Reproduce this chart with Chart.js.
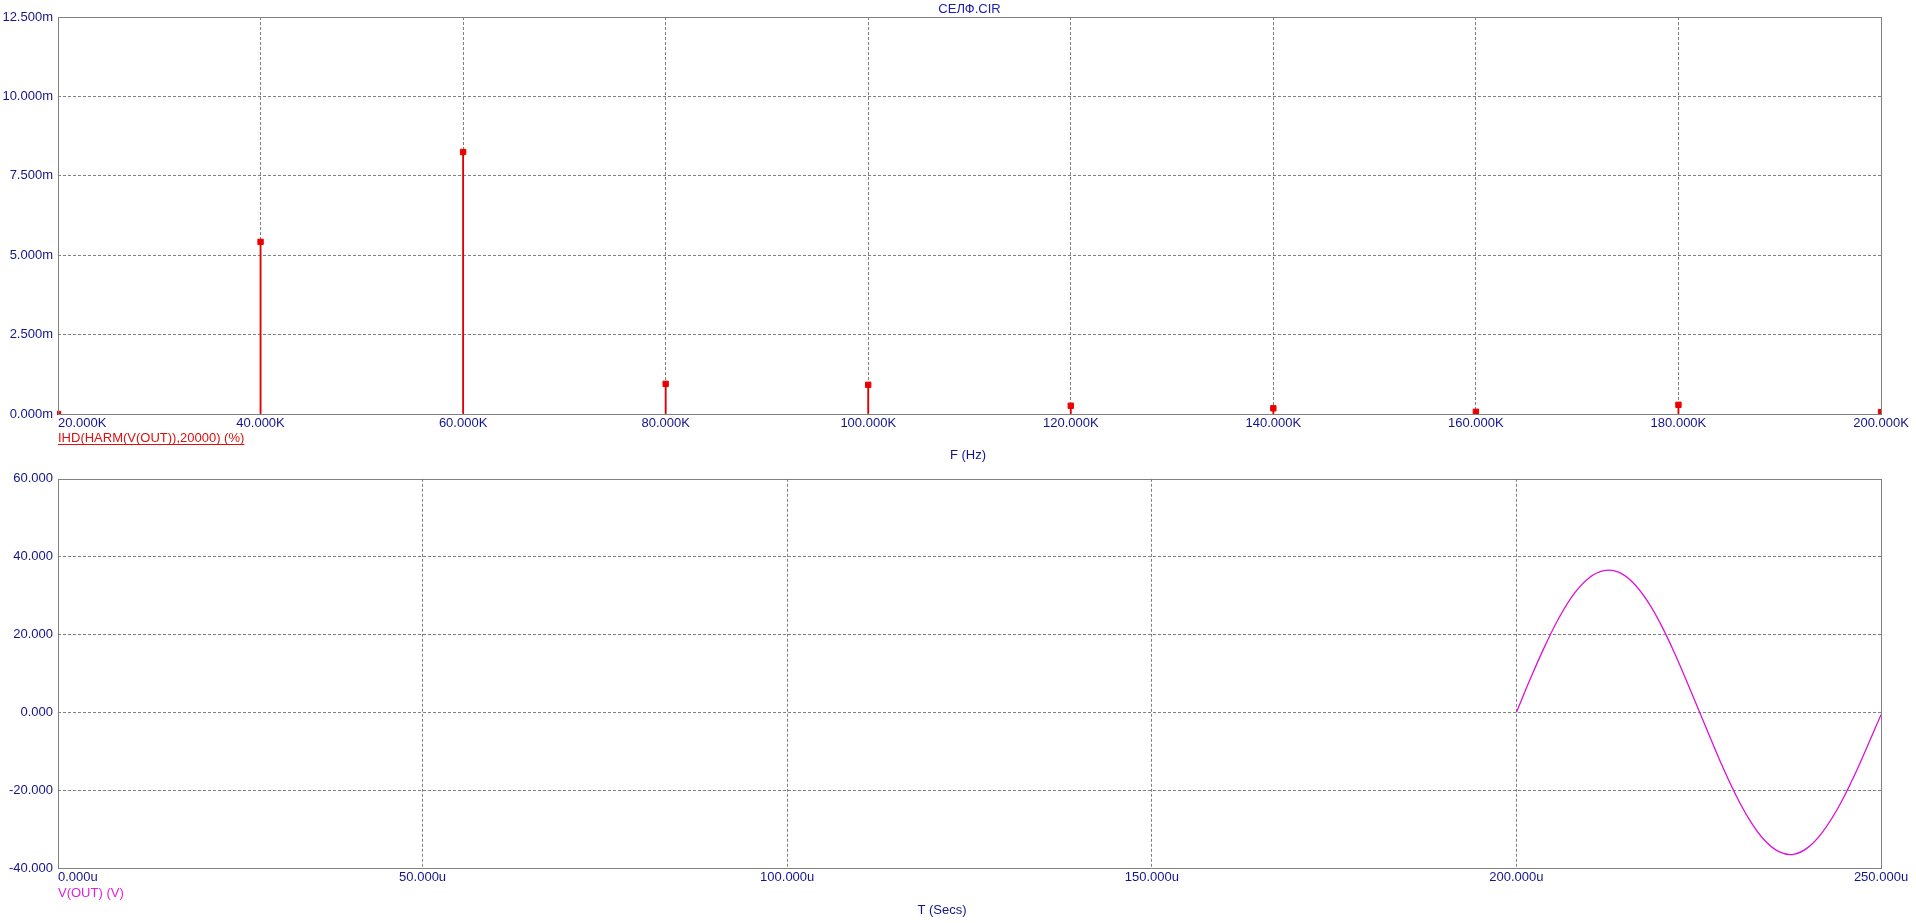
<!DOCTYPE html>
<html>
<head>
<meta charset="utf-8">
<title>СЕЛФ.CIR</title>
<script src="https://cdn.jsdelivr.net/npm/chart.js@4.4.0/dist/chart.umd.min.js"></script>
<style>
body { margin: 0; background: #fff; overflow: hidden; }
canvas { position: absolute; left: 0; }
#harmChart { top: 0; }
#timeChart { top: 466px; }
</style>
</head>
<body>
<canvas id="harmChart" width="1916" height="466"></canvas>
<canvas id="timeChart" width="1916" height="457"></canvas>
<script>
"use strict";
// harmonic distortion (IHD, milli-percent) per harmonic frequency
const harmFreq = [20000, 40000, 60000, 80000, 100000, 120000, 140000, 160000, 180000, 200000];
const harmIhd = [0.0, 5.42, 8.25, 0.95, 0.92, 0.26, 0.18, 0.07, 0.29, 0.06];
const freqTicks = [20000, 40000, 60000, 80000, 100000, 120000, 140000, 160000, 180000, 200000];
const ihdTicks = [0, 2.5, 5, 7.5, 10, 12.5];

// transient output V(OUT), time in micro-seconds
const timeUs = [200, 202, 204, 206, 208, 210, 212, 214, 216, 218, 220, 222, 224,
    226, 228, 230, 232, 234, 236, 238, 240, 242, 244, 246, 248, 250];
const vOut = [0.0, 9.0, 17.4, 24.8, 30.7, 34.6, 36.4, 36.0, 33.3, 28.5, 21.9, 13.9, 5.1,
    -3.9, -12.8, -20.9, -27.7, -32.8, -35.8, -36.5, -34.7, -30.7, -24.9, -17.6, -9.3, -0.6];
const timeTicks = [0, 50, 100, 150, 200, 250];
const voltTicks = [-40, -20, 0, 20, 40, 60];

const FONT_FAMILY = '"Liberation Sans", Arial, sans-serif';
const TICK_COLOR = "#14148c";
const GRID_COLOR = "#808080";

function gridColor(ctx) {
    if(ctx.index === 0 || ctx.index === ctx.scale.ticks.length - 1) return "rgba(0,0,0,0)";
    return GRID_COLOR;
}

function fixedTicks(values) {
    return scale => { scale.ticks = values.map(v => ({value: v})); };
}

// plot frame, x tick labels and the series/axis captions
const framePlugin = {
    id: "frame",
    afterDatasetsDraw(chart) {
        const {ctx, chartArea: a} = chart;
        ctx.save();
        ctx.strokeStyle = GRID_COLOR;
        ctx.lineWidth = 1;
        ctx.strokeRect(Math.round(a.left) + 0.5, Math.round(a.top) + 0.5,
            Math.round(a.right - a.left), Math.round(a.bottom - a.top));
        ctx.restore();
    },
    afterDraw(chart, args, opts) {
        const {ctx, chartArea: a} = chart;
        const xs = chart.scales.x;
        ctx.save();
        ctx.font = "13px " + FONT_FAMILY;
        ctx.textBaseline = "alphabetic";
        ctx.fillStyle = TICK_COLOR;
        xs.ticks.forEach((t, i) => {
            ctx.textAlign = i === 0 ? "left" : "center";
            ctx.fillText(opts.fmt(t.value), xs.getPixelForValue(t.value), a.bottom + 13);
        });
        ctx.textAlign = "left";
        ctx.fillStyle = opts.labelColor;
        const ly = a.bottom + opts.labelOffset;
        ctx.fillText(opts.label, a.left, ly);
        if(opts.underline) {
            const w = ctx.measureText(opts.label).width;
            ctx.strokeStyle = opts.labelColor;
            ctx.lineWidth = 1;
            ctx.beginPath();
            ctx.moveTo(a.left, ly + 2.5);
            ctx.lineTo(a.left + w, ly + 2.5);
            ctx.stroke();
        }
        ctx.textAlign = "center";
        ctx.fillStyle = TICK_COLOR;
        ctx.fillText(opts.axisTitle, opts.axisTitleX, a.bottom + opts.axisTitleOffset);
        ctx.restore();
    }
};

function axisY(min, max, values, fmt, width) {
    return {
        type: "linear",
        min: min,
        max: max,
        afterBuildTicks: fixedTicks(values),
        afterFit: scale => { scale.width = width; },
        grid: { color: gridColor, drawTicks: false, lineWidth: 1 },
        border: { display: false, dash: [3, 2] },
        ticks: { color: TICK_COLOR, font: { family: FONT_FAMILY, size: 13 }, padding: 5, callback: fmt }
    };
}

function axisX(min, max, values, height) {
    return {
        type: "linear",
        min: min,
        max: max,
        offset: false,
        afterBuildTicks: fixedTicks(values),
        afterFit: scale => { scale.height = height; },
        grid: { color: gridColor, drawTicks: false, lineWidth: 1, offset: false },
        border: { display: false, dash: [3, 2] },
        ticks: { display: false }
    };
}

new Chart(document.getElementById("harmChart"), {
    type: "scatter",
    data: {
        datasets: [
            {
                type: "bar",
                data: harmFreq.map((f, i) => ({x: f, y: harmIhd[i]})),
                backgroundColor: "#e00000",
                barThickness: 1.2
            }, {
                type: "scatter",
                data: harmFreq.map((f, i) => ({x: f, y: harmIhd[i]})),
                pointStyle: "rect",
                pointRadius: 3.8,
                pointBorderWidth: 1,
                pointBackgroundColor: "#ee0000",
                pointBorderColor: "#ee0000",
                clip: 1
            }
        ]
    },
    options: {
        responsive: false,
        animation: false,
        layout: { padding: { left: 0, right: 35, top: 0, bottom: 0 } },
        scales: {
            x: axisX(20000, 200000, freqTicks, 52),
            y: axisY(0, 12.5, ihdTicks, v => v.toFixed(3) + "m", 58)
        },
        plugins: {
            legend: { display: false },
            tooltip: { enabled: false },
            title: {
                display: true,
                text: "СЕЛФ.CIR",
                color: "#1c1cb0",
                fullSize: false,
                font: { family: FONT_FAMILY, size: 13, weight: "normal", lineHeight: 1.2 },
                padding: { top: 1.4, bottom: 0 }
            },
            frame: {
                fmt: v => (v / 1000).toFixed(3) + "K",
                label: "IHD(HARM(V(OUT)),20000) (%)",
                labelColor: "#dd1010",
                labelOffset: 28,
                underline: true,
                axisTitle: "F (Hz)",
                axisTitleX: 968,
                axisTitleOffset: 45
            }
        }
    },
    plugins: [framePlugin]
});

new Chart(document.getElementById("timeChart"), {
    type: "line",
    data: {
        datasets: [{
            data: timeUs.map((t, i) => ({x: t, y: vOut[i]})),
            borderColor: "#dd10dd",
            borderWidth: 1.3,
            pointRadius: 0,
            tension: 0.4,
            fill: false
        }]
    },
    options: {
        responsive: false,
        animation: false,
        layout: { padding: { left: 0, right: 35, top: 5, bottom: 0 } },
        scales: {
            x: axisX(0, 250, timeTicks, 55),
            y: axisY(-40, 60, voltTicks, v => v.toFixed(3), 58)
        },
        plugins: {
            legend: { display: false },
            tooltip: { enabled: false },
            frame: {
                fmt: v => v.toFixed(3) + "u",
                label: "V(OUT) (V)",
                labelColor: "#dd20dd",
                labelOffset: 29,
                underline: false,
                axisTitle: "T (Secs)",
                axisTitleX: 942,
                axisTitleOffset: 46
            }
        }
    },
    plugins: [framePlugin]
});
</script>
</body>
</html>
